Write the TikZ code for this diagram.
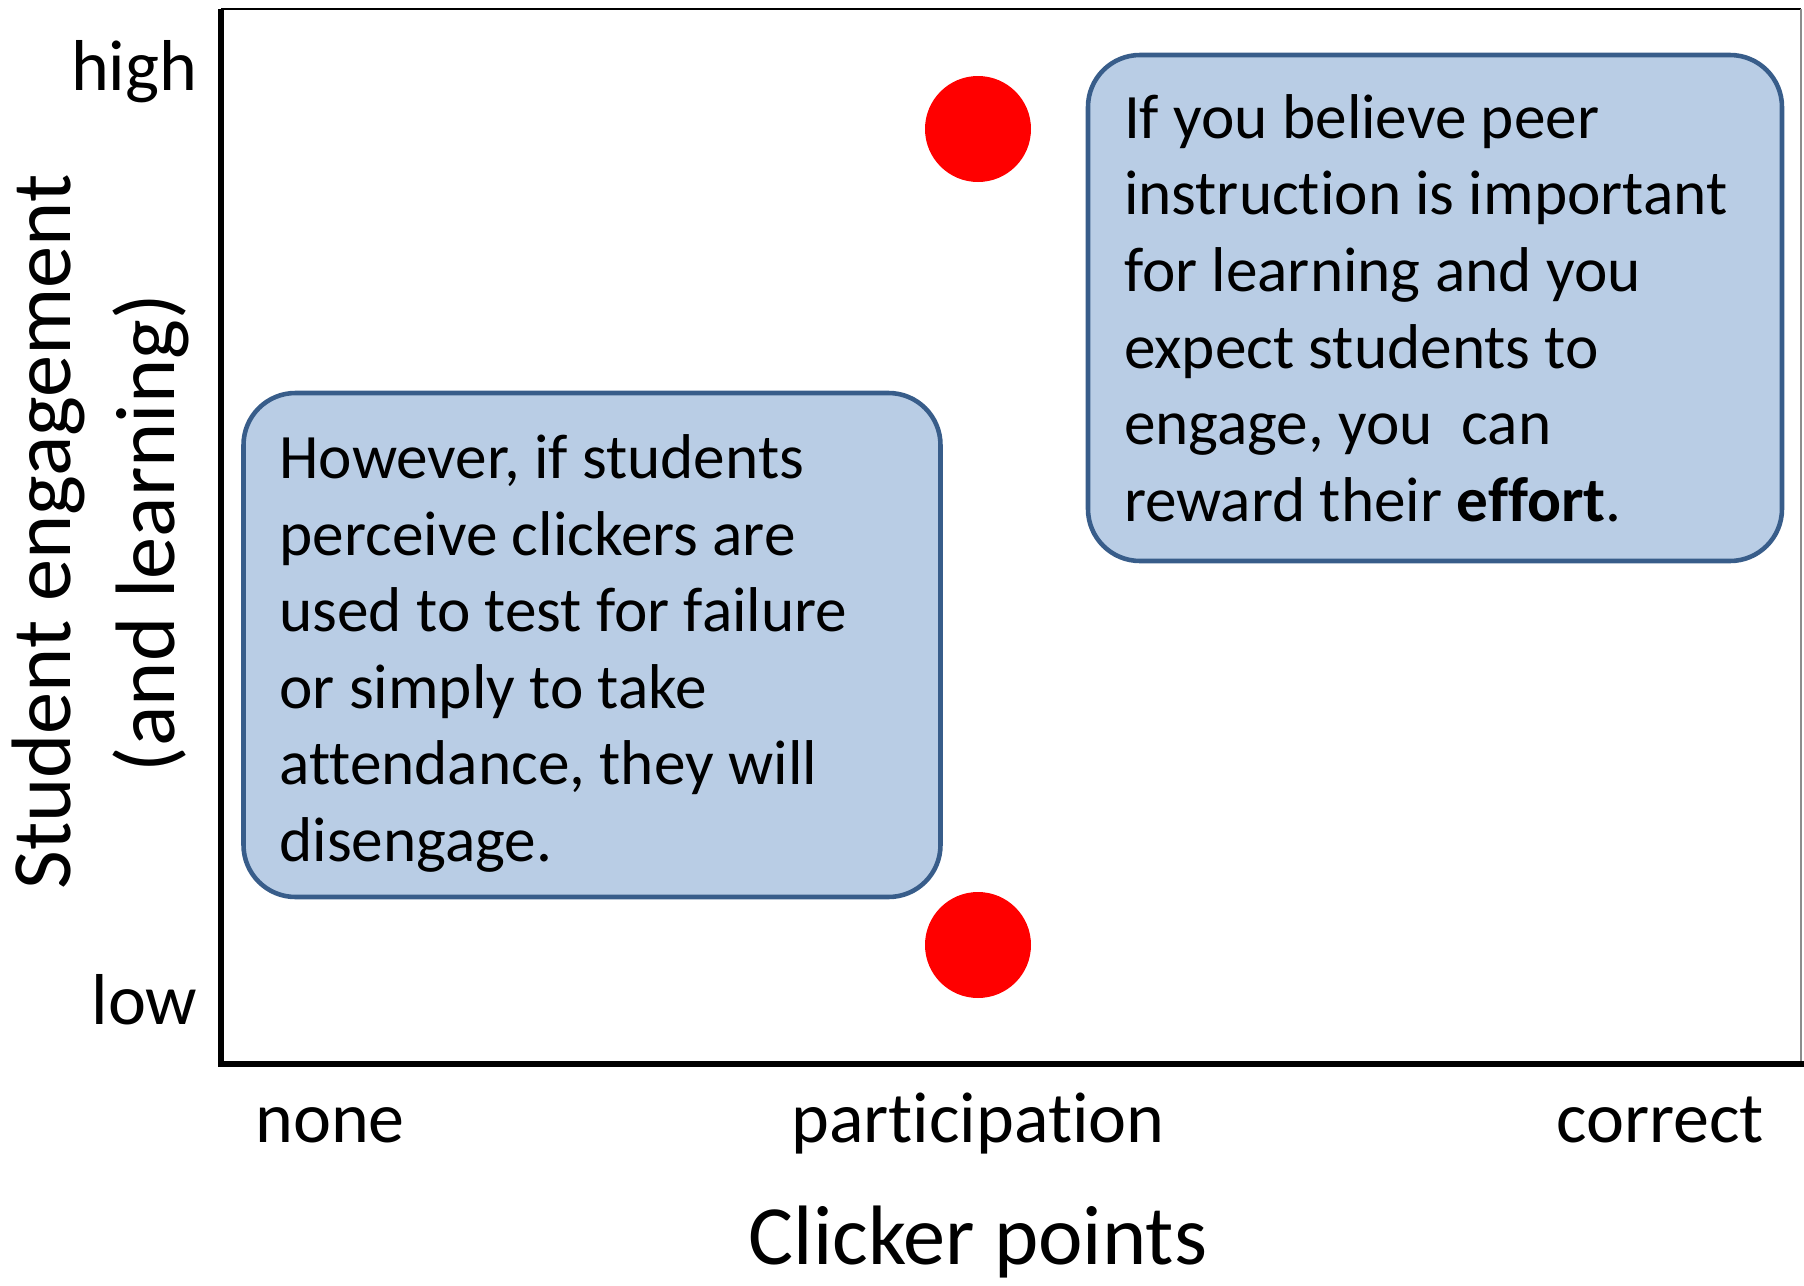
\documentclass[tikz,border=0pt]{standalone}
\usepackage{fontspec}
\setmainfont[Ligatures=NoCommon]{Carlito}
\definecolor{boxfill}{RGB}{185,205,229}
\definecolor{boxline}{RGB}{56,93,138}
\def\axisleft{221}
\def\axisbottom{1064}

\begin{document}
\begin{tikzpicture}[x=0.1mm, y=-0.1mm]
    \tikzstyle{note}=[draw=boxline, fill=boxfill, line width=1.3pt, rounded corners=5.2mm,
        align=flush left, inner xsep=3.6mm, inner ysep=0pt, font=\fontsize{18}{21.8}\selectfont]
    \tikzstyle{tick}=[font=\fontsize{20.5}{24}\selectfont, inner sep=0pt]
    \tikzstyle{title}=[font=\fontsize{24}{28}\selectfont, inner sep=0pt]
    \tikzstyle{dot}=[circle, fill=red, minimum size=10.6mm, inner sep=0pt]

    \useasboundingbox (0,0) rectangle (1804,1286);

    % Draw the frame and the axes
    \draw[line width=0.6pt] (\axisleft,9) -- (1801,9);
    \draw[line width=0.6pt, black!45] (1801,9) -- (1801,\axisbottom);
    \draw[line width=1.7pt] (\axisleft,9) -- (\axisleft,\axisbottom) -- (1804,\axisbottom);

    % Tick labels
    \node[tick, anchor=base east] (high) at (198,90) {high};
    \node[tick, anchor=base east] (low) at (198,1024) {low};
    \node[tick, anchor=base] (none) at (330,1142) {none};
    \node[tick, anchor=base] (part) at (978,1142) {participation};
    \node[tick, anchor=base] (corr) at (1660,1142) {correct};

    % Axis titles
    \node[title, anchor=base] (xtitle) at (978,1264) {Clicker points};
    \node[title, anchor=base, rotate=90] (ytitle) at (71,532) {Student engagement};
    \node[title, anchor=base, rotate=90] (ysub) at (175,533) {(and learning)};

    % The two points
    \node[dot] (hi-dot) at (978,129) {};
    \node[dot] (lo-dot) at (978,945) {};

    % The two notes
    \node[note, minimum width=69.4mm, minimum height=50.6mm, text width=62.2mm] (right-note) at (1435,308)
        {If you believe peer\\instruction is important\\for learning and you\\expect students to\\engage, you\ \ can\\reward their \textbf{effort}.};
    \node[note, minimum width=69.7mm, minimum height=50.4mm, text width=62.5mm] (left-note) at (592,645)
        {\rule{0pt}{6.1mm}However, if students\\perceive clickers are\\used to test for failure\\or simply to take\\attendance, they will\\disengage.};
\end{tikzpicture}
\end{document}
